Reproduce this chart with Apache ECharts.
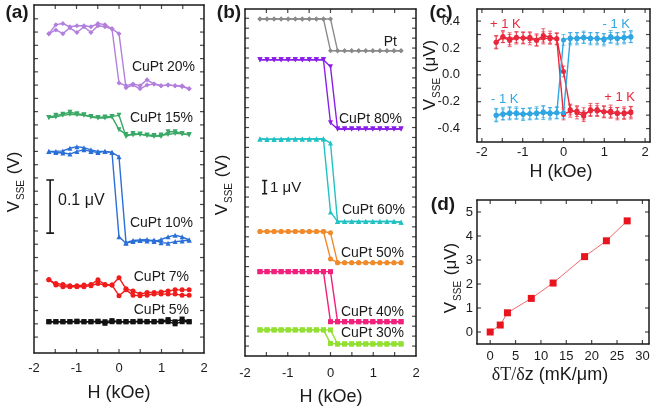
<!DOCTYPE html>
<html><head><meta charset="utf-8">
<script src="https://cdn.jsdelivr.net/npm/echarts@6/dist/echarts.min.js"></script>
<style>html,body{margin:0;padding:0;background:#fff}#c{width:657px;height:407px}</style>
</head><body><div id="c"></div>
<script>
// ---- shared field grid (kOe) ----
const H = [-1.65,-1.485,-1.32,-1.155,-0.99,-0.825,-0.66,-0.495,-0.33,-0.165,0,0.165,0.33,0.495,0.66,0.825,0.99,1.155,1.32,1.485,1.65];
const xTickLabels = [-2,-1,0,1,2];

// ---- panel (a): V_SSE (µV, offset traces) ----
const a20A = [0.572,0.589,0.591,0.585,0.587,0.587,0.585,0.591,0.589,0.581,0.572,0.470,0.475,0.468,0.475,0.477,0.474,0.475,0.474,0.474,0.468];
const a20B = [0.572,0.579,0.572,0.583,0.574,0.585,0.574,0.587,0.585,0.581,0.479,0.474,0.477,0.474,0.485,0.477,0.474,0.475,0.474,0.472,0.468];
const a15A = [0.414,0.418,0.420,0.424,0.421,0.419,0.416,0.414,0.415,0.416,0.418,0.378,0.384,0.382,0.381,0.380,0.378,0.387,0.387,0.384,0.381];
const a15B = [0.414,0.415,0.418,0.420,0.419,0.418,0.415,0.413,0.413,0.415,0.391,0.382,0.381,0.383,0.380,0.378,0.381,0.382,0.384,0.383,0.382];
const a10A = [0.350,0.350,0.351,0.356,0.359,0.357,0.353,0.350,0.350,0.348,0.340,0.178,0.182,0.183,0.184,0.180,0.184,0.189,0.192,0.189,0.183];
const a10B = [0.350,0.348,0.347,0.345,0.350,0.353,0.350,0.348,0.350,0.348,0.189,0.177,0.180,0.182,0.181,0.183,0.178,0.177,0.180,0.181,0.183];
const a7A  = [0.108,0.101,0.099,0.097,0.097,0.098,0.099,0.108,0.099,0.098,0.112,0.091,0.087,0.081,0.084,0.084,0.085,0.087,0.089,0.089,0.089];
const a7B  = [0.108,0.098,0.095,0.095,0.095,0.095,0.097,0.101,0.098,0.098,0.078,0.089,0.079,0.078,0.079,0.081,0.081,0.081,0.081,0.079,0.079];
const a5A  = [0.029,0.029,0.029,0.029,0.030,0.029,0.029,0.030,0.029,0.031,0.029,0.029,0.029,0.030,0.029,0.029,0.030,0.033,0.029,0.034,0.029];
const a5B  = [0.029,0.029,0.029,0.029,0.029,0.029,0.029,0.029,0.026,0.029,0.029,0.029,0.029,0.029,0.029,0.029,0.029,0.029,0.025,0.029,0.029];
const aLabels = ['CuPt 20%','CuPt 15%','CuPt 10%','CuPt 7%','CuPt 5%'];
const aBar = {x:-1.62, y0:0.196, y1:0.296, text:'0.1 \u03bcV'};

// ---- panel (b): V_SSE (µV, offset traces) ----
const bPtA  = [25.45,25.45,25.45,25.45,25.45,25.45,25.45,25.45,25.45,25.45,23.05,23.05,23.05,23.05,23.05,23.05,23.05,23.05,23.05,23.05,23.05];
const bPtB  = [25.45,25.45,25.45,25.45,25.45,25.45,25.45,25.45,25.45,25.45,25.45,23.05,23.05,23.05,23.05,23.05,23.05,23.05,23.05,23.05,23.05];
const b80A  = [22.37,22.37,22.37,22.37,22.37,22.37,22.37,22.37,22.37,22.37,17.61,17.14,17.14,17.14,17.14,17.14,17.14,17.14,17.14,17.14,17.14];
const b80B  = [22.37,22.37,22.37,22.37,22.37,22.37,22.37,22.37,22.37,22.37,21.84,17.14,17.14,17.14,17.14,17.14,17.14,17.14,17.14,17.14,17.14];
const b60A  = [16.38,16.38,16.35,16.38,16.38,16.38,16.38,16.38,16.38,16.38,10.88,10.15,10.15,10.15,10.15,10.15,10.15,10.15,10.15,10.15,10.10];
const b60B  = [16.38,16.35,16.38,16.35,16.38,16.38,16.38,16.38,16.38,16.40,16.08,10.15,10.15,10.15,10.15,10.15,10.15,10.15,10.15,10.15,10.10];
const b50A  = [9.40,9.40,9.40,9.40,9.40,9.40,9.40,9.40,9.40,9.40,7.33,7.05,7.05,7.05,7.05,7.05,7.05,7.05,7.05,7.05,7.05];
const b50B  = [9.40,9.40,9.40,9.40,9.40,9.40,9.40,9.40,9.40,9.40,9.30,7.05,7.05,7.05,7.05,7.05,7.05,7.05,7.05,7.05,7.05];
const b40A  = [6.37,6.37,6.37,6.37,6.37,6.37,6.37,6.37,6.37,6.37,2.59,2.59,2.59,2.59,2.59,2.59,2.59,2.59,2.59,2.59,2.59];
const b40B  = [6.37,6.37,6.37,6.37,6.37,6.37,6.37,6.37,6.37,6.37,6.37,2.59,2.59,2.59,2.59,2.59,2.59,2.59,2.59,2.59,2.59];
const b30A  = [1.97,1.97,1.97,1.97,1.97,1.97,1.97,1.97,1.97,1.97,0.95,0.91,0.91,0.91,0.91,0.91,0.91,0.91,0.91,0.91,0.91];
const b30B  = [1.97,1.97,1.97,1.97,1.97,1.97,1.97,1.97,1.97,1.97,1.97,0.91,0.91,0.91,0.91,0.91,0.91,0.91,0.91,0.91,0.91];
const bLabels = ['Pt','CuPt 80%','CuPt 60%','CuPt 50%','CuPt 40%','CuPt 30%'];
const bBar = {x:-1.54, y0:12.25, y1:13.25, text:'1 \u03bcV'};

// ---- panel (c): V_SSE (µV) for +1 K and -1 K ----
const cRedA  = [0.243,0.285,0.268,0.280,0.275,0.280,0.260,0.293,0.280,0.268,0.025,-0.258,-0.283,-0.308,-0.258,-0.270,-0.275,-0.283,-0.290,-0.283,-0.275];
const cRedB  = [0.243,0.280,0.255,0.275,0.275,0.268,0.255,0.275,0.268,0.268,-0.295,-0.270,-0.270,-0.290,-0.270,-0.258,-0.275,-0.270,-0.283,-0.290,-0.283];
const cBlueA = [-0.300,-0.295,-0.290,-0.283,-0.290,-0.290,-0.290,-0.275,-0.283,-0.283,-0.283,0.268,0.275,0.280,0.275,0.268,0.268,0.285,0.275,0.280,0.285];
const cBlueB = [-0.300,-0.290,-0.283,-0.290,-0.295,-0.290,-0.283,-0.283,-0.290,-0.283,0.260,0.275,0.268,0.275,0.268,0.275,0.260,0.275,0.268,0.275,0.280];
const cErrA  = [0.050,0.045,0.045,0.040,0.045,0.040,0.045,0.050,0.045,0.040,0.040,0.040,0.045,0.040,0.045,0.040,0.045,0.040,0.045,0.045,0.040];
const cErrB  = [0.045,0.040,0.045,0.045,0.040,0.045,0.040,0.045,0.040,0.045,0.040,0.045,0.040,0.045,0.040,0.045,0.040,0.045,0.040,0.040,0.045];
const cYTicks = [-0.4,-0.2,0,0.2,0.4];

// ---- panel (d): V_SSE vs gradient ----
const dX = [0, 1.98, 3.4, 8.1, 12.4, 18.6, 22.9, 27.0];
const dY = [0, 0.29, 0.80, 1.40, 2.04, 3.14, 3.80, 4.63];
const dXTicks = [0,5,10,15,20,25,30];
const dYTicks = [0,1,2,3,4,5];

const FONT = 'Arial, "Liberation Sans", sans-serif';
const INK = '#1a1a1a';
const zip = (xs, ys) => xs.map((x, i) => [x, ys[i]]);
function range(a, b, s){ const r=[]; for(let v=a; v<=b+1e-9; v+=s) r.push(+v.toFixed(4)); return r; }

const EXT = {
  a:{x:[-2,2], y:[-0.030,0.626]},
  b:{x:[-2,2], y:[0,26.2]},
  c:{x:[-2.12,2.12], y:[-0.5,0.49]},
  d:{x:[-2.6,31.3], y:[-0.5,5.5]}
};

function lineSeries(xi, yi, data, color, symbol, rot){
  return {type:'line', xAxisIndex:xi, yAxisIndex:yi, data, symbol, symbolSize:5, symbolRotate:rot||0,
    lineStyle:{color, width:1.4}, itemStyle:{color}, animation:false, z:3};
}
function barSeries(xi, yi, bar, dx){
  const d = [[bar.x-dx,bar.y0],[bar.x+dx,bar.y0],[bar.x,bar.y0],[bar.x,bar.y1],[bar.x-dx,bar.y1],[bar.x+dx,bar.y1]];
  return {type:'line', xAxisIndex:xi, yAxisIndex:yi, data:d, symbol:'none', lineStyle:{color:INK,width:1.6}, animation:false};
}
function errSeries(xi, yi, vals, errs, color){
  return {type:'custom', xAxisIndex:xi, yAxisIndex:yi, animation:false, z:2,
    data: H.map((h,i)=>[h, vals[i], errs[i]]),
    renderItem:(p, api)=>{
      const x=api.value(0), y=api.value(1), e=api.value(2);
      const t=api.coord([x,y+e]), b=api.coord([x,y-e]);
      const st={stroke:color, lineWidth:0.9, opacity:0.8};
      return {type:'group', children:[
        {type:'line', shape:{x1:t[0],y1:t[1],x2:b[0],y2:b[1]}, style:st},
        {type:'line', shape:{x1:t[0]-2,y1:t[1],x2:t[0]+2,y2:t[1]}, style:st},
        {type:'line', shape:{x1:b[0]-2,y1:b[1],x2:b[0]+2,y2:b[1]}, style:st}
      ]};
    }};
}
// inside tick marks drawn as thin rectangle symbols sitting on the frame, placed by the axes' scales
function tickMarks(xi, yi, ext, xt, yt){
  const base = {type:'scatter', xAxisIndex:xi, yAxisIndex:yi, symbol:'rect', clip:false, silent:true,
    animation:false, z:6, itemStyle:{color:INK}};
  return [
    Object.assign({}, base, {data:xt.map(v=>[v, ext.y[0]]), symbolSize:[1.2,4], symbolOffset:[0,-2]}),
    Object.assign({}, base, {data:xt.map(v=>[v, ext.y[1]]), symbolSize:[1.2,4], symbolOffset:[0,2]}),
    Object.assign({}, base, {data:yt.map(v=>[ext.x[0], v]), symbolSize:[4,1.2], symbolOffset:[2,0]}),
    Object.assign({}, base, {data:yt.map(v=>[ext.x[1], v]), symbolSize:[4,1.2], symbolOffset:[-2,0]})
  ];
}

const lineStyleAx = {show:true, onZero:false, lineStyle:{color:INK, width:1.5}};
function xAx(grid, ext, labels, margin, show){
  return {type:'value', gridIndex:grid, min:ext.x[0], max:ext.x[1], position: show?'bottom':'top',
    axisLine:lineStyleAx, splitLine:{show:false}, axisTick:{show:false},
    axisLabel:{show:show, customValues:labels, margin, fontSize:13, color:INK, fontFamily:FONT}};
}
function yAx(grid, ext, labels, margin, show, fmt, pos){
  return {type:'value', gridIndex:grid, min:ext.y[0], max:ext.y[1], position: pos,
    axisLine:lineStyleAx, splitLine:{show:false}, axisTick:{show:false},
    axisLabel:{show:!!show, customValues:labels||[], margin, fontSize:13, color:INK, fontFamily:FONT, formatter:fmt}};
}

const grids = [
  {left:34, top:5, width:170, height:348, show:false},
  {left:245, top:9, width:171, height:347, show:false},
  {left:477, top:9, width:173, height:133, show:false},
  {left:477, top:200, width:172, height:144, show:false}
];

const xAxes = [
  xAx(0,EXT.a,xTickLabels,9,true), xAx(0,EXT.a,[],0,false),
  xAx(1,EXT.b,xTickLabels,11,true), xAx(1,EXT.b,[],0,false),
  xAx(2,EXT.c,xTickLabels,4,true), xAx(2,EXT.c,[],0,false),
  xAx(3,EXT.d,dXTicks,6,true), xAx(3,EXT.d,[],0,false)
];
const yAxes = [
  yAx(0,EXT.a,[],0,false,null,'left'), yAx(0,EXT.a,[],0,false,null,'right'),
  yAx(1,EXT.b,[],0,false,null,'left'), yAx(1,EXT.b,[],0,false,null,'right'),
  yAx(2,EXT.c,cYTicks,17,true,v=>v.toFixed(1),'left'), yAx(2,EXT.c,[],0,false,null,'right'),
  yAx(3,EXT.d,dYTicks,4,true,null,'left'), yAx(3,EXT.d,[],0,false,null,'right')
];

const C = {p:'#b27fdc', g:'#3aa866', b:'#2a6fd8', r:'#f01c1c', k:'#111111',
  gray:'#8a8a8a', v:'#8a1ee8', t:'#22c2c4', o:'#f08a2a', pk:'#f0207c', l:'#92e032',
  cr:'#e8283c', cb:'#2fa6e2'};

const hTicks = range(-1.5,1.5,0.5);
const series = [].concat(
  tickMarks(0,0,EXT.a,hTicks,range(0,0.6,0.025)),
  tickMarks(2,2,EXT.b,hTicks,range(0.75,25.5,0.75)),
  tickMarks(4,4,EXT.c,range(-2,2,0.5),range(-0.4,0.4,0.1)),
  tickMarks(6,6,EXT.d,range(0,30,5),range(0,5,1)),
  [
  lineSeries(0,0,zip(H,a20A),C.p,'diamond'), lineSeries(0,0,zip(H,a20B),C.p,'diamond'),
  lineSeries(0,0,zip(H,a15A),C.g,'triangle',180), lineSeries(0,0,zip(H,a15B),C.g,'triangle',180),
  lineSeries(0,0,zip(H,a10A),C.b,'triangle'), lineSeries(0,0,zip(H,a10B),C.b,'triangle'),
  lineSeries(0,0,zip(H,a7A),C.r,'circle'), lineSeries(0,0,zip(H,a7B),C.r,'circle'),
  lineSeries(0,0,zip(H,a5A),C.k,'rect'), lineSeries(0,0,zip(H,a5B),C.k,'rect'),
  barSeries(0,0,aBar,0.09),
  lineSeries(2,2,zip(H,bPtA),C.gray,'diamond'), lineSeries(2,2,zip(H,bPtB),C.gray,'diamond'),
  lineSeries(2,2,zip(H,b80A),C.v,'triangle',180), lineSeries(2,2,zip(H,b80B),C.v,'triangle',180),
  lineSeries(2,2,zip(H,b60A),C.t,'triangle'), lineSeries(2,2,zip(H,b60B),C.t,'triangle'),
  lineSeries(2,2,zip(H,b50A),C.o,'circle'), lineSeries(2,2,zip(H,b50B),C.o,'circle'),
  lineSeries(2,2,zip(H,b40A),C.pk,'rect'), lineSeries(2,2,zip(H,b40B),C.pk,'rect'),
  lineSeries(2,2,zip(H,b30A),C.l,'rect'), lineSeries(2,2,zip(H,b30B),C.l,'rect'),
  barSeries(2,2,bBar,0.06),
  errSeries(4,4,cRedA,cErrA,C.cr), errSeries(4,4,cRedB,cErrB,C.cr),
  errSeries(4,4,cBlueA,cErrB,C.cb), errSeries(4,4,cBlueB,cErrA,C.cb),
  lineSeries(4,4,zip(H,cRedA),C.cr,'circle'), lineSeries(4,4,zip(H,cRedB),C.cr,'circle'),
  lineSeries(4,4,zip(H,cBlueA),C.cb,'circle'), lineSeries(4,4,zip(H,cBlueB),C.cb,'circle'),
  {type:'line', xAxisIndex:6, yAxisIndex:6, data:zip(dX,dY), symbol:'rect', symbolSize:7,
   lineStyle:{color:'#f06a6a', width:1}, itemStyle:{color:'#e8141e'}, animation:false}
  ]
);

function txt(x, y, text, opt){
  const o = Object.assign({size:14, align:'left', color:INK, weight:'normal'}, opt||{});
  return {type:'text', x, y, z:10, rotation:o.rot||0, style:{text, fill:o.color,
    font: o.weight+' '+o.size+'px '+FONT, align:o.align, textAlign:o.align,
    verticalAlign:'middle', textVerticalAlign:'middle', rich:o.rich}};
}
function vTitle(x, y, unit){
  return {type:'text', x, y, z:10, rotation:Math.PI/2, style:{
    text:'{v|V}{s|SSE}{v| ('+unit+')}', align:'center', textAlign:'center',
    verticalAlign:'middle', textVerticalAlign:'middle', fill:INK,
    rich:{v:{fontSize:17, fontFamily:FONT, fill:INK, lineHeight:24},
          s:{fontSize:10, fontFamily:FONT, fill:INK, lineHeight:24, verticalAlign:'bottom', padding:[0,1,0,1]}}}};
}
const graphics = [
  txt(17,13,'(a)',{size:19,weight:'bold',align:'center'}),
  txt(229,13,'(b)',{size:19,weight:'bold',align:'center'}),
  txt(441,13,'(c)',{size:19,weight:'bold',align:'center'}),
  txt(443,205,'(d)',{size:19,weight:'bold',align:'center'}),
  vTitle(14,182,'V'), vTitle(222,185,'V'), vTitle(430,75,'\u03bcV'), vTitle(451,278,'\u03bcV'),
  txt(119,393,'H (kOe)',{size:18,align:'center'}),
  txt(331,397,'H (kOe)',{size:18,align:'center'}),
  txt(561,172,'H (kOe)',{size:18,align:'center'}),
  {type:'text', x:550, y:375, z:10, style:{text:'{m|\u03b4T/\u03b4}{n|z (mK/\u03bcm)}', align:'center', textAlign:'center',
    verticalAlign:'middle', textVerticalAlign:'middle', fill:INK,
    rich:{m:{fontSize:18, fontFamily:'"Liberation Serif", "Times New Roman", serif', fill:INK}, n:{fontSize:18, fontFamily:FONT, fill:INK}}}},
  txt(195,67,aLabels[0],{align:'right'}), txt(193,118,aLabels[1],{align:'right'}),
  txt(193,223,aLabels[2],{align:'right'}), txt(189,277,aLabels[3],{align:'right'}),
  txt(189,310,aLabels[4],{align:'right'}),
  txt(58,201,aBar.text,{size:16}),
  txt(397,42,bLabels[0],{align:'right'}), txt(402,119,bLabels[1],{align:'right'}),
  txt(405,210,bLabels[2],{align:'right'}), txt(404,253,bLabels[3],{align:'right'}),
  txt(404,312,bLabels[4],{align:'right'}), txt(404,333,bLabels[5],{align:'right'}),
  txt(270,188,bBar.text,{size:15}),
  txt(490,24,'+ 1 K',{size:13,color:C.cr}), txt(630,24,'- 1 K',{size:13,color:C.cb,align:'right'}),
  txt(491,99,'- 1 K',{size:13,color:C.cb}), txt(635,97,'+ 1 K',{size:13,color:C.cr,align:'right'})
];

const chart = echarts.init(document.getElementById('c'), null, {renderer:'canvas'});
chart.setOption({animation:false, backgroundColor:'#fff', grid:grids, xAxis:xAxes, yAxis:yAxes, series, graphic:graphics});
</script></body></html>
